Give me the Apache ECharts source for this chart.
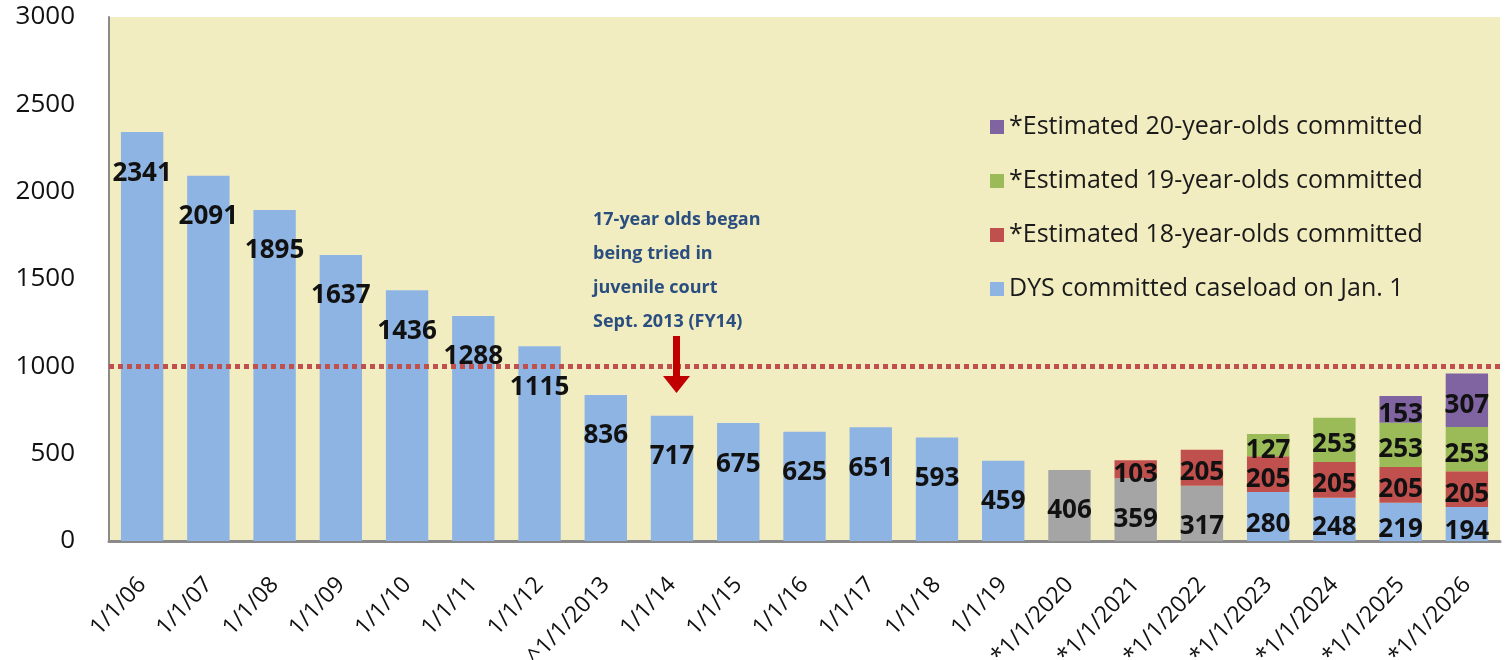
<!DOCTYPE html>
<html>
<head>
<meta charset="utf-8">
<script src="https://cdn.jsdelivr.net/npm/echarts@6/dist/echarts.min.js"></script>
<style>
  html, body { margin: 0; padding: 0; background: #fff; }
  #main { width: 1507px; height: 660px; }
</style>
</head>
<body>
<div id="main"></div>
<script>
// Data
var categories = ['1/1/06', '1/1/07', '1/1/08', '1/1/09', '1/1/10', '1/1/11', '1/1/12', '^1/1/2013',
  '1/1/14', '1/1/15', '1/1/16', '1/1/17', '1/1/18', '1/1/19',
  '*1/1/2020', '*1/1/2021', '*1/1/2022', '*1/1/2023', '*1/1/2024', '*1/1/2025', '*1/1/2026'];
var dysCaseload = [2341, 2091, 1895, 1637, 1436, 1288, 1115, 836, 717, 675, 625, 651, 593, 459,
  406, 359, 317, 280, 248, 219, 194];
var est18 = ['-', '-', '-', '-', '-', '-', '-', '-', '-', '-', '-', '-', '-', '-',
  '-', 103, 205, 205, 205, 205, 205];
var est19 = ['-', '-', '-', '-', '-', '-', '-', '-', '-', '-', '-', '-', '-', '-',
  '-', '-', '-', 127, 253, 253, 253];
var est20 = ['-', '-', '-', '-', '-', '-', '-', '-', '-', '-', '-', '-', '-', '-',
  '-', '-', '-', '-', '-', 153, 307];
var yTicks = [0, 500, 1000, 1500, 2000, 2500, 3000];
var capacityLine = 1000;
// projected caseload years (grey bars) and years with stacked estimates
var projectedYears = ['*1/1/2020', '*1/1/2021', '*1/1/2022'];
var firstStackedYear = '*1/1/2023';

var names = {
  dys: 'DYS committed caseload on Jan. 1',
  e18: '*Estimated 18-year-olds committed',
  e19: '*Estimated 19-year-olds committed',
  e20: '*Estimated 20-year-olds committed'
};

var chartDom = document.getElementById('main');
var myChart = echarts.init(chartDom);

var numFont = 'Open Sans';
var stackedFrom = categories.indexOf(firstStackedYear);

// DYS bars: grey for projected years, label near the top of the bar
var dysData = dysCaseload.map(function (v, i) {
  var item = { value: v };
  if (projectedYears.indexOf(categories[i]) >= 0) {
    item.itemStyle = { color: '#A5A5A5' };
  }
  if (i >= stackedFrom) {
    item.label = { position: 'inside', offset: [0, 8] };
  }
  return item;
});

function segLabel() {
  return {
    show: true,
    position: 'inside',
    offset: [0, 5],
    fontFamily: numFont,
    fontWeight: 'bold',
    fontSize: 26,
    color: '#111'
  };
}

var option = {
  backgroundColor: '#fff',
  animation: false,
  grid: {
    left: 109,
    right: 7,
    top: 17,
    bottom: 119,
    outerBoundsMode: 'none',
    containLabel: false,
    show: true,
    backgroundColor: '#F2EDC1',
    borderWidth: 0
  },
  legend: {
    orient: 'vertical',
    left: 985,
    top: 107,
    itemWidth: 14,
    itemHeight: 14,
    itemGap: 24,
    icon: 'rect',
    data: [names.e20, names.e19, names.e18, names.dys],
    textStyle: {
      fontFamily: numFont,
      fontSize: 25,
      lineHeight: 30,
      color: '#1a1a1a'
    }
  },
  xAxis: {
    type: 'category',
    data: categories,
    axisLine: { lineStyle: { color: '#8a8a8a', width: 3 } },
    axisTick: { show: false },
    axisLabel: {
      rotate: 47,
      margin: 40,
      interval: 0,
      fontFamily: numFont,
      fontSize: 23,
      color: '#111'
    }
  },
  yAxis: {
    type: 'value',
    min: yTicks[0],
    max: yTicks[yTicks.length - 1],
    interval: yTicks[1] - yTicks[0],
    splitLine: { show: false },
    axisLine: { show: true, lineStyle: { color: '#8a8a8a', width: 2 } },
    axisTick: { show: false },
    axisLabel: {
      margin: 34,
      fontFamily: numFont,
      fontSize: 26,
      color: '#111',
      formatter: function (v) { return String(v); }
    }
  },
  series: [
    {
      name: names.dys,
      type: 'bar',
      stack: 'total',
      barCategoryGap: '36%',
      itemStyle: { color: '#8EB4E3' },
      label: {
        show: true,
        position: 'insideTop',
        distance: 28,
        fontFamily: numFont,
        fontWeight: 'bold',
        fontSize: 26,
        color: '#111'
      },
      data: dysData,
      markLine: {
        silent: true,
        symbol: 'none',
        label: { show: false },
        lineStyle: { color: '#C0504D', width: 5, type: [5, 4], opacity: 1 },
        data: [{ yAxis: capacityLine }]
      },
      z: 2
    },
    {
      name: names.e18,
      type: 'bar',
      stack: 'total',
      itemStyle: { color: '#C0504D' },
      label: segLabel(),
      data: est18
    },
    {
      name: names.e19,
      type: 'bar',
      stack: 'total',
      itemStyle: { color: '#9BBB59' },
      label: segLabel(),
      data: est19
    },
    {
      name: names.e20,
      type: 'bar',
      stack: 'total',
      itemStyle: { color: '#8064A2' },
      label: segLabel(),
      data: est20
    }
  ],
  graphic: [
    {
      type: 'text',
      left: 678 - 85,
      top: 203,
      style: {
        text: '17-year olds began\nbeing tried in\njuvenile court\nSept. 2013 (FY14)',
        width: 170,
        align: 'center',
        x: 85,
        fontFamily: numFont,
        fontWeight: 'bold',
        fontSize: 18,
        lineHeight: 34,
        fill: '#2A4E7F'
      }
    },
    {
      type: 'rect',
      shape: { x: 673, y: 336, width: 7, height: 42 },
      style: { fill: '#C00000' },
      z: 10
    },
    {
      type: 'polygon',
      shape: { points: [[663, 376], [690, 376], [676.5, 393]] },
      style: { fill: '#C00000' },
      z: 10
    }
  ]
};

myChart.setOption(option);
</script>
</body>
</html>
